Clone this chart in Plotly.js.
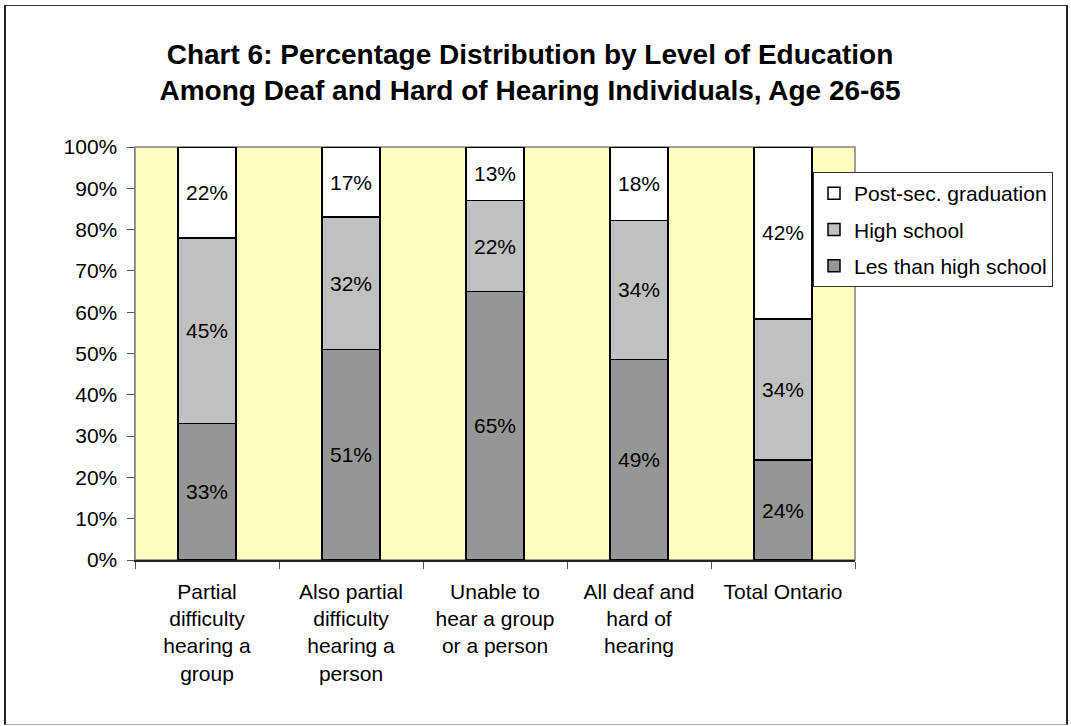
<!DOCTYPE html>
<html>
<head>
<meta charset="utf-8">
<script src="https://cdn.plot.ly/plotly-3.0.1.min.js"></script>
<style>
  html, body { margin: 0; padding: 0; background: #ffffff; }
  #frame { position: absolute; left: 4px; top: 5px; width: 1060px; height: 718px;
           border-left: 2px solid #222; border-right: 2px solid #222;
           border-top: 1px solid #333; border-bottom: 1px solid #aaa; pointer-events: none; z-index: 5; }
  #chart { position: absolute; left: 0; top: 0; width: 1071px; height: 726px; }
</style>
</head>
<body>
<div id="chart"></div>
<div id="frame"></div>
<script>
const categories = [
  "Partial<br>difficulty<br>hearing a<br>group",
  "Also partial<br>difficulty<br>hearing a<br>person",
  "Unable to<br>hear a group<br>or a person",
  "All deaf and<br>hard of<br>hearing",
  "Total Ontario"
];
const lessThanHighSchool = [33, 51, 65, 48.6, 24.2];
const highSchool        = [45, 32, 22, 33.6, 34.2];
const postSecondary     = [22, 17, 13, 17.8, 41.6];
const seriesNames = ["Les than high school", "High school", "Post-sec. graduation"];
const seriesColors = ["#969696", "#C0C0C0", "#FFFFFF"];
const yTickVals = [0, 10, 20, 30, 40, 50, 60, 70, 80, 90, 100];
const yTickText = ["0%", "10%", "20%", "30%", "40%", "50%", "60%", "70%", "80%", "90%", "100%"];

const FONT = "Arial, 'Liberation Sans', sans-serif";
const seriesValues = [lessThanHighSchool, highSchool, postSecondary];

const traces = seriesValues.map((vals, i) => ({
  type: "bar",
  name: seriesNames[i],
  x: categories,
  y: vals,
  legendgroup: "g" + i,
  legendrank: 3 - i,
  marker: { color: seriesColors[i], line: { color: "#000000", width: 1.5 } },
  texttemplate: "%{y:.0f}%",
  textposition: "inside",
  insidetextanchor: "middle",
  textangle: 0,
  constraintext: "none",
  textfont: { family: FONT, size: 21, color: "#000000" },
  hoverinfo: "skip"
}));

const layout = {
  width: 1071,
  height: 726,
  margin: { l: 135, r: 216, t: 147, b: 166 },
  paper_bgcolor: "#ffffff",
  plot_bgcolor: "#FFFFC0",
  barmode: "stack",
  bargap: 0.6,
  showlegend: true,
  font: { family: FONT, size: 21, color: "#000000" },
  title: {
    text: "<b>Chart 6: Percentage Distribution by Level of Education<br>Among Deaf and Hard of Hearing Individuals, Age 26-65</b>",
    font: { family: FONT, size: 28, color: "#000000" },
    x: 530 / 1071, xref: "container", xanchor: "center",
    y: 1 - 64 / 726, yref: "container", yanchor: "top"
  },
  xaxis: {
    type: "category",
    tickson: "boundaries",
    ticks: "outside",
    ticklen: 7,
    tickcolor: "#555555",
    showline: true,
    linecolor: "#222222",
    linewidth: 1.5,
    showgrid: false,
    zeroline: false,
    ticklabelstandoff: 12,
    tickfont: { family: FONT, size: 21, color: "#000000" },
    fixedrange: true
  },
  yaxis: {
    range: [0, 100],
    tickvals: yTickVals,
    ticktext: yTickText,
    ticks: "outside",
    ticklen: 7,
    tickcolor: "#555555",
    showline: true,
    linecolor: "#808080",
    linewidth: 1.5,
    showgrid: false,
    zeroline: false,
    ticklabelstandoff: 5,
    tickfont: { family: FONT, size: 21, color: "#000000" },
    fixedrange: true
  },
  legend: {
    x: (813 - 135) / 720,
    xanchor: "left",
    y: (560 - 172) / 413,
    yanchor: "top",
    traceorder: "grouped",
    tracegroupgap: 6,
    bgcolor: "#ffffff",
    bordercolor: "#333333",
    borderwidth: 1,
    font: { family: FONT, size: 21, color: "#000000" }
  },
  shapes: [
    { type: "rect", xref: "paper", yref: "paper", x0: 0, x1: 1, y0: 0, y1: 1,
      line: { color: "#808080", width: 1.5 }, fillcolor: "rgba(0,0,0,0)", layer: "below" }
  ]
};

Plotly.newPlot("chart", traces, layout, { displayModeBar: false, staticPlot: true });
</script>
</body>
</html>
